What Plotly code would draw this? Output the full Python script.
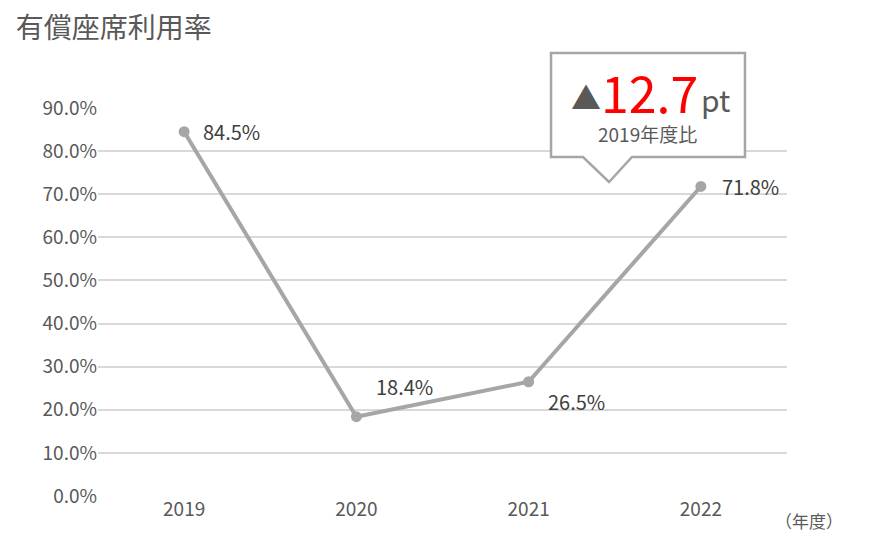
import plotly.graph_objects as go

# 有償座席利用率 (%)
years = ["2019", "2020", "2021", "2022"]
load_factor = [84.5, 18.4, 26.5, 71.8]
label_shift = [(17, 0), (18, 30), (17, -20), (19, 0)]  # label offset in px
y_ticks = [0, 10, 20, 30, 40, 50, 60, 70, 80, 90]

font = "Noto Sans CJK JP"
grey_text = "#595959"
line_grey = "#A6A6A6"

fig = go.Figure()
fig.add_trace(go.Scatter(
    x=list(range(len(years))), y=load_factor, mode="lines+markers",
    line=dict(color=line_grey, width=4),
    marker=dict(color=line_grey, size=11),
    hoverinfo="skip", showlegend=False,
))

# data labels
for i, (v, (dx, dy)) in enumerate(zip(load_factor, label_shift)):
    fig.add_annotation(x=i, y=v, text=f"{v:.1f}%", showarrow=False,
                       xanchor="left", xshift=dx, yshift=dy,
                       font=dict(size=20, color="#404040", family=font))

# callout box
box = "M 0.6575 1.1418 L 0.939 1.1418 L 0.939 0.8737 L 0.775 0.8737 L 0.7417 0.8093 L 0.7039 0.8737 L 0.6575 0.8737 Z"
fig.add_shape(type="path", path=box, xref="paper", yref="paper",
              line=dict(color=line_grey, width=2.5), fillcolor="white", layer="above")
fig.add_annotation(xref="paper", yref="paper", x=0.684, y=1.03, xanchor="left", yanchor="middle",
                   showarrow=False, text="▲", font=dict(size=30, color=grey_text, family=font))
fig.add_annotation(xref="paper", yref="paper", x=0.727, y=1.044, xanchor="left", yanchor="middle",
                   showarrow=False, text="12.7", font=dict(size=50, color="#FF0000", family=font))
fig.add_annotation(xref="paper", yref="paper", x=0.8725, y=1.022, xanchor="left", yanchor="middle",
                   showarrow=False, text="pt", font=dict(size=30, color=grey_text, family=font))
fig.add_annotation(xref="paper", yref="paper", x=0.798, y=0.935, xanchor="center", yanchor="middle",
                   showarrow=False, text="2019年度比",
                   font=dict(size=19, color=grey_text, family=font))

# unit label
fig.add_annotation(xref="paper", yref="paper", x=0.98, y=-0.0644, showarrow=False,
                   xanchor="left", yanchor="middle", text="（年度）",
                   font=dict(size=17, color=grey_text, family=font))

fig.update_layout(
    width=879, height=542,
    margin=dict(l=98, r=92, t=108, b=46),
    plot_bgcolor="white", paper_bgcolor="white",
    font=dict(family=font, color=grey_text),
    title=dict(text="有償座席利用率", x=0.018, xanchor="left", y=0.948, yanchor="middle",
               font=dict(size=28, color=grey_text, family=font)),
    xaxis=dict(range=[-0.5, 3.5], tickvals=list(range(len(years))), ticktext=years,
               showline=False, showgrid=False, zeroline=False,
               ticks="", tickfont=dict(size=19, color=grey_text)),
    yaxis=dict(range=[0, 90], tickvals=y_ticks,
               ticktext=[f"{t:.1f}%" for t in y_ticks],
               showgrid=True, gridcolor="#D9D9D9", gridwidth=2,
               zeroline=False, showline=False, ticks="",
               tickfont=dict(size=19, color=grey_text)),
)

fig.write_html("out.html", config={"displayModeBar": False},
               post_script="document.body.style.margin='0';")
